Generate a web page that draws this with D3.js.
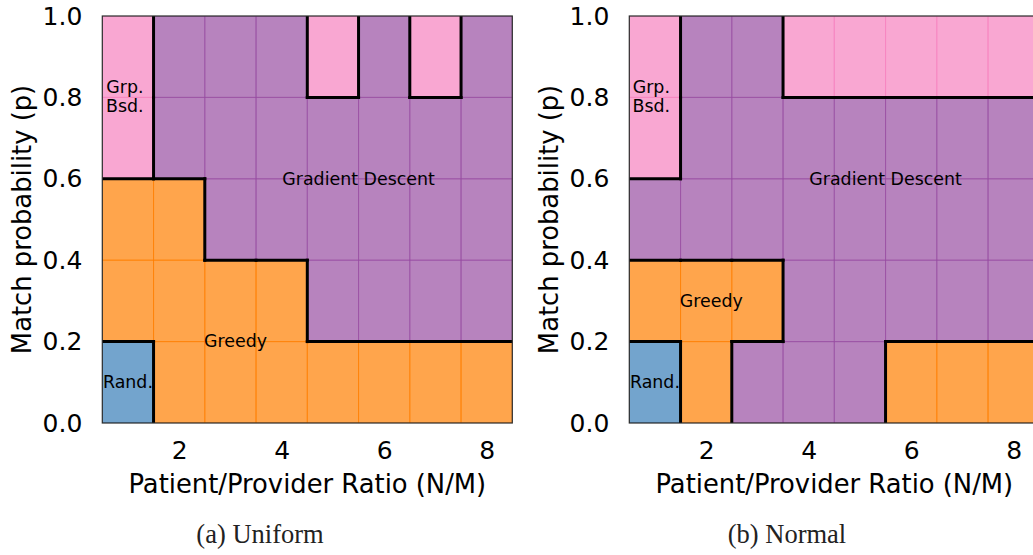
<!DOCTYPE html>
<html>
<head>
<meta charset="utf-8">
<script src="https://cdn.jsdelivr.net/npm/d3@7"></script>
<style>
  body { margin: 0; background: #fff; }
  svg { display: block; font-family: "DejaVu Sans", sans-serif; }
  .tick text { fill: #000; }
  .caption { font-family: "Liberation Serif", serif; fill: #222; }
</style>
</head>
<body>
<div id="chart"></div>
<script>
// Best method per (ratio, probability) cell
// R = Random, G = Greedy, D = Gradient Descent, P = Group based
const ratios = [1, 2, 3, 4, 5, 6, 7, 8];
const probBins = [0.0, 0.2, 0.4, 0.6, 0.8]; // lower edge of each row
const binSize = 0.2;

// rows go from p = 0.0 (bottom) to p = 0.8 (top)
const uniformBest = [
  ["R", "G", "G", "G", "G", "G", "G", "G"],
  ["G", "G", "G", "G", "D", "D", "D", "D"],
  ["G", "G", "D", "D", "D", "D", "D", "D"],
  ["P", "D", "D", "D", "D", "D", "D", "D"],
  ["P", "D", "D", "D", "P", "D", "P", "D"]
];
const normalBest = [
  ["R", "G", "D", "D", "D", "G", "G", "G"],
  ["G", "G", "G", "D", "D", "D", "D", "D"],
  ["D", "D", "D", "D", "D", "D", "D", "D"],
  ["P", "D", "D", "D", "D", "D", "D", "D"],
  ["P", "D", "D", "P", "P", "P", "P", "P"]
];

// region labels (data coordinates)
const uniformLabels = [
  { lines: ["Grp.", "Bsd."], x: 0.94, p: 0.8 },
  { lines: ["Gradient Descent"], x: 5.5, p: 0.6 },
  { lines: ["Greedy"], x: 3.1, p: 0.2 },
  { lines: ["Rand."], x: 1.0, p: 0.1 }
];
const normalLabels = [
  { lines: ["Grp.", "Bsd."], x: 0.93, p: 0.8 },
  { lines: ["Gradient Descent"], x: 5.5, p: 0.6 },
  { lines: ["Greedy"], x: 2.1, p: 0.3 },
  { lines: ["Rand."], x: 1.0, p: 0.1 }
];

const xTicks = [2, 4, 6, 8];
const yTicks = [0.0, 0.2, 0.4, 0.6, 0.8, 1.0];

const width = 1033;
const height = 555;
const plotW = 410;
const plotH = 407;
const plotTop = 16;

// Set1 colours, same as the original colormap
const color = d3.scaleOrdinal()
  .domain(["R", "G", "D", "P"])
  .range(["#377eb8", "#ff7f00", "#984ea3", "#f781bf"]);

const svg = d3.select("#chart").append("svg")
  .attr("width", width)
  .attr("height", height);

const panels = [
  { id: "a", left: 102.3, grid: uniformBest, labels: uniformLabels, caption: "(a) Uniform", captionX: 260 },
  { id: "b", left: 629.3, grid: normalBest, labels: normalLabels, caption: "(b) Normal", captionX: 787 }
];

panels.forEach(panel => {
  const x = d3.scaleLinear().domain([0.5, 8.5]).range([0, plotW]);
  const y = d3.scaleLinear().domain([0, 1]).range([plotH, 0]);

  const g = svg.append("g")
    .attr("transform", `translate(${panel.left},${plotTop})`);

  svg.append("clipPath")
    .attr("id", "clip-" + panel.id)
    .append("rect")
    .attr("width", plotW)
    .attr("height", plotH);

  // flatten grid into cells
  const cells = [];
  panel.grid.forEach((row, i) => {
    row.forEach((cat, j) => {
      cells.push({ ratio: ratios[j], p: probBins[i], cat: cat });
    });
  });

  g.append("g")
    .attr("clip-path", `url(#clip-${panel.id})`)
    .selectAll("rect")
    .data(cells)
    .enter().append("rect")
    .attr("x", d => x(d.ratio - 0.5))
    .attr("y", d => y(d.p + binSize))
    .attr("width", d => x(d.ratio + 0.5) - x(d.ratio - 0.5))
    .attr("height", d => y(d.p) - y(d.p + binSize))
    .attr("fill", d => color(d.cat))
    .attr("fill-opacity", 0.7)
    .attr("stroke", d => color(d.cat))
    .attr("stroke-opacity", 0.7)
    .attr("stroke-width", 1);

  // black borders between regions of different category
  const edges = [];
  panel.grid.forEach((row, i) => {
    row.forEach((cat, j) => {
      if (j + 1 < row.length && row[j + 1] !== cat) {
        edges.push({ x1: ratios[j] + 0.5, x2: ratios[j] + 0.5, p1: probBins[i], p2: probBins[i] + binSize });
      }
      if (i + 1 < panel.grid.length && panel.grid[i + 1][j] !== cat) {
        edges.push({ x1: ratios[j] - 0.5, x2: ratios[j] + 0.5, p1: probBins[i] + binSize, p2: probBins[i] + binSize });
      }
    });
  });

  g.append("g")
    .attr("clip-path", `url(#clip-${panel.id})`)
    .selectAll("line")
    .data(edges)
    .enter().append("line")
    .attr("x1", d => x(d.x1))
    .attr("x2", d => x(d.x2))
    .attr("y1", d => y(d.p1))
    .attr("y2", d => y(d.p2))
    .attr("stroke", "#000")
    .attr("stroke-width", 3)
    .attr("stroke-linecap", "square");

  // region labels
  const lab = g.append("g").selectAll("text")
    .data(panel.labels)
    .enter().append("text")
    .attr("text-anchor", "middle")
    .attr("font-size", 17.4)
    .attr("fill", "#000")
    .attr("transform", d => `translate(${x(d.x)},${y(d.p)})`);

  lab.selectAll("tspan")
    .data(d => d.lines.map((t, k) => ({ t: t, k: k, n: d.lines.length })))
    .enter().append("tspan")
    .attr("x", 0)
    .attr("y", d => d.n === 1 ? 5.8 : (d.k === 0 ? -4 : 14.4))
    .text(d => d.t);

  // spine
  g.append("rect")
    .attr("width", plotW)
    .attr("height", plotH)
    .attr("fill", "none")
    .attr("stroke", "#2b2b2b")
    .attr("stroke-width", 1.2);

  // axes
  const xAxis = g.append("g")
    .attr("transform", `translate(0,${plotH})`)
    .call(d3.axisBottom(x).tickValues(xTicks).tickSize(0).tickPadding(18.5).tickFormat(d3.format("d")));
  xAxis.select(".domain").remove();
  xAxis.selectAll("text").attr("font-size", 25).attr("font-family", "DejaVu Sans");

  const yAxis = g.append("g")
    .call(d3.axisLeft(y).tickValues(yTicks).tickSize(0).tickPadding(20).tickFormat(d3.format(".1f")));
  yAxis.select(".domain").remove();
  yAxis.selectAll("text").attr("font-size", 25).attr("font-family", "DejaVu Sans");

  // axis titles
  g.append("text")
    .attr("x", plotW / 2)
    .attr("y", plotH + 70)
    .attr("text-anchor", "middle")
    .attr("font-size", 25.8)
    .text("Patient/Provider Ratio (N/M)");

  g.append("text")
    .attr("transform", `translate(-71,${plotH / 2}) rotate(-90)`)
    .attr("text-anchor", "middle")
    .attr("font-size", 25.8)
    .text("Match probability (p)");

  // sub-figure caption
  svg.append("text")
    .attr("class", "caption")
    .attr("x", panel.captionX)
    .attr("y", 543)
    .attr("text-anchor", "middle")
    .attr("font-size", 26.5)
    .text(panel.caption);
});
</script>
</body>
</html>
